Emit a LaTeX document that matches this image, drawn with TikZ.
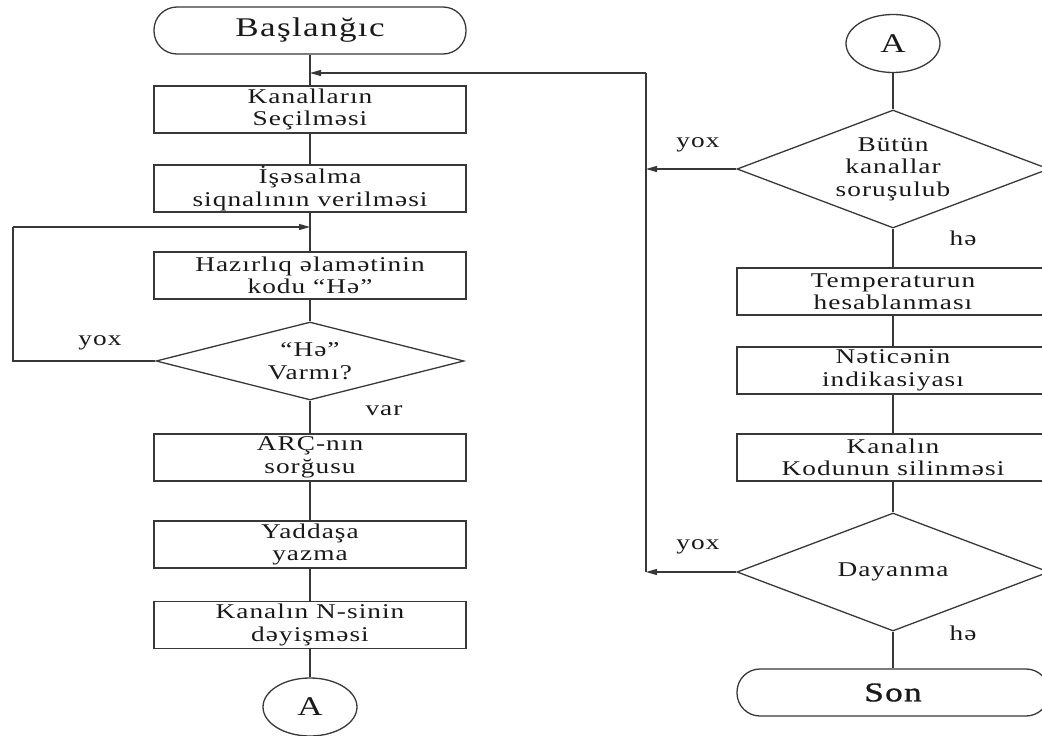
\documentclass[tikz,border=0pt]{standalone}
\usepackage{fontspec}
\setmainfont{Liberation Serif}[FakeStretch=1.3,LetterSpace=5]
\newfontfamily\sonfont{Liberation Serif}[FakeStretch=1.3,LetterSpace=5,FakeBold=1.2]
\usetikzlibrary{arrows.meta,shapes.geometric}

\begin{document}
	\begin{tikzpicture}[
		x=1pt, y=-1pt,
		line width=1.3pt,
		every node/.style={font=\fontsize{21}{22.5}\selectfont, text=black!90},
		blok/.style={draw=black!78, rectangle, minimum width=312pt, minimum height=47pt, inner sep=0pt, align=center},
		terminal/.style={draw=black!78, rectangle, rounded corners=23pt, minimum width=312pt, minimum height=47pt, font=\fontsize{27}{28}\selectfont},
		yoxla/.style={draw=black!78, diamond, inner sep=0pt, align=center},
		qovsaq/.style={draw=black!78, ellipse, minimum width=94pt, minimum height=58pt, inner sep=0pt, font=\fontsize{27}{28}\selectfont},
		ox/.style={-{Triangle[length=11pt,width=6pt]}}
	]
		\useasboundingbox (0,0) rectangle (1042,736);
		\clip (0,0) rectangle (1042,736);
		\node[terminal] (bas) at (310,30.5) {Başlanğıc};
		\node[blok] (kan) at (310,109.5) {Kanalların\\Seçilməsi};
		\node[blok] (ise) at (310,188.5) {İşəsalma\\siqnalının verilməsi};
		\node[blok] (haz) at (310,275.5) {Hazırlıq əlamətinin\\kodu “Hə”};
		\node[yoxla, minimum width=308pt, minimum height=78pt, aspect=3.95] (hevar) at (310,361) {“Hə”\\Varmı?};
		\node[blok] (arc) at (310,457.5) {ARÇ-nın\\sorğusu};
		\node[blok] (yad) at (310,544.5) {Yaddaşa\\yazma};
		\node[blok] (ndey) at (310,625) {Kanalın N-sinin\\dəyişməsi};
		\node[qovsaq] (a1) at (310,707) {A};
		\node[qovsaq] (a2) at (893,43.5) {A};
		\node[yoxla, minimum width=312pt, minimum height=118pt, aspect=2.64] (butun) at (893,169) {Bütün\\kanallar\\soruşulub};
		\node[blok] (temp) at (893,291.5) {Temperaturun\\hesablanması};
		\node[blok] (net) at (893,370.5) {Nəticənin\\indikasiyası};
		\node[blok] (kod) at (893,457.5) {Kanalın\\Kodunun silinməsi};
		\node[yoxla, minimum width=312pt, minimum height=118pt, aspect=2.64] (day) at (893,572) {Dayanma};
		\node[terminal] (son) at (893,692.5) {\sonfont Son};
		\coordinate (jtop) at (310,73);
		\coordinate (rtop) at (646,73);
		\coordinate (rmid) at (646,169);
		\coordinate (rbot) at (646,572);
		\coordinate (sol1) at (13,361);
		\coordinate (sol2) at (13,227);
		\coordinate (jloop) at (310,227);
		\node (yox1) at (100,343) {yox};
		\node (var) at (384,411) {var};
		\node (yox2) at (698,145) {yox};
		\node (he1) at (963,238) {hə};
		\node (yox3) at (698,547) {yox};
		\node (he2) at (963,633) {hə};
		\begin{scope}[draw=black!78]
			\draw (bas) -- (kan);
			\draw (kan) -- (ise);
			\draw (ise) -- (haz);
			\draw (haz) -- (hevar);
			\draw (hevar) -- (arc);
			\draw (arc) -- (yad);
			\draw (yad) -- (ndey);
			\draw (ndey) -- (a1);
			\draw (hevar.west) -- (sol1) -- (sol2);
			\draw[ox] (sol2) -- (jloop);
			\draw (a2) -- (butun);
			\draw (butun) -- (temp);
			\draw (temp) -- (net);
			\draw (net) -- (kod);
			\draw (kod) -- (day);
			\draw (day) -- (son);
			\draw[ox] (butun.west) -- (rmid);
			\draw[ox] (day.west) -- (rbot);
			\draw (rbot) -- (rtop);
			\draw[ox] (rtop) -- (jtop);
		\end{scope}
	\end{tikzpicture}
\end{document}
